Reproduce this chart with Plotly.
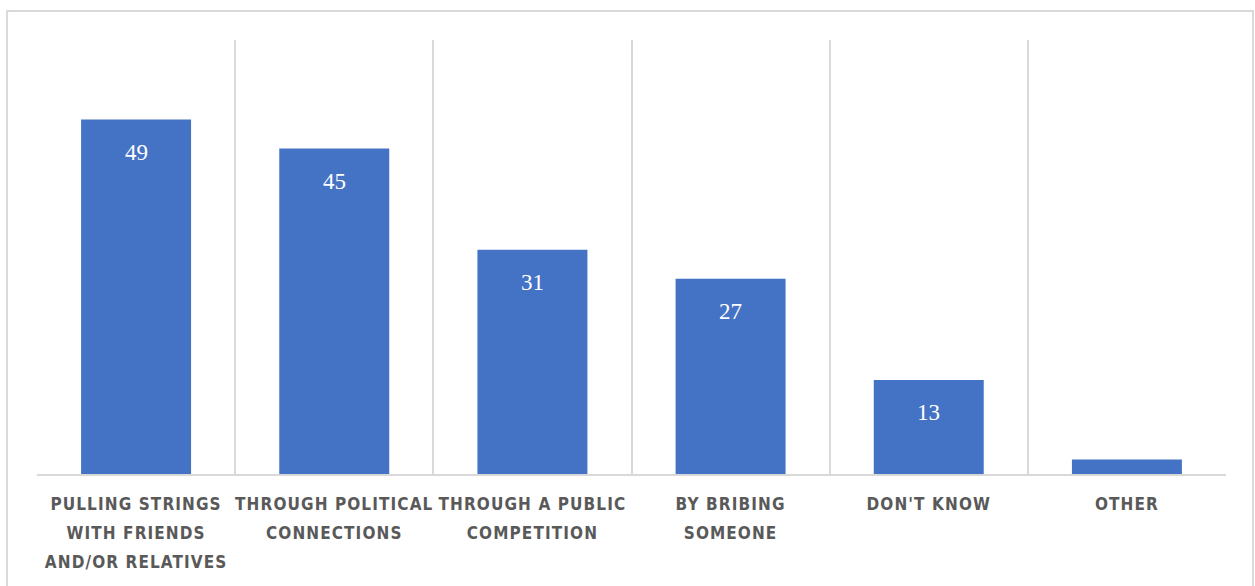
import plotly.graph_objects as go

# Survey answers: how people get a public sector job
categories = [
    "PULLING STRINGS<br>WITH FRIENDS<br>AND/OR RELATIVES",
    "THROUGH POLITICAL<br>CONNECTIONS",
    "THROUGH A PUBLIC<br>COMPETITION",
    "BY BRIBING<br>SOMEONE",
    "DON'T KNOW",
    "OTHER",
]
values = [49, 45, 31, 27, 13, 2]
labelled = [True, True, True, True, True, False]

bar_color = "#4472C4"
grid_color = "#D9D9D9"


def spaced(label):
    """Draw each tick-label line smaller than the base font, with wider tracking,
    so the lines keep a looser line pitch."""
    return "<br>".join(
        f"<span style='font-size:17px;letter-spacing:1.1px'>{line}</span>"
        for line in label.split("<br>")
    )


tick_text = [spaced(c) for c in categories]

fig = go.Figure(
    go.Bar(
        x=categories,
        y=values,
        marker=dict(color=bar_color, line=dict(width=0)),
        hoverinfo="x+y",
    )
)

# Value labels sit inside each bar just below its top
for cat, val, show in zip(categories, values, labelled):
    if show:
        fig.add_annotation(
            x=cat, y=val, text=str(val), showarrow=False,
            yanchor="top", yshift=-18,
            font=dict(family="Liberation Serif", size=23, color="white"),
        )

# Light frame around the whole chart
fig.add_shape(
    type="rect", xref="paper", yref="paper",
    x0=-0.0252, x1=1.0227, y0=-0.30, y1=1.0668,
    line=dict(color=grid_color, width=2), fillcolor="rgba(0,0,0,0)", layer="below",
)

fig.update_layout(
    width=1255, height=586,
    margin=dict(l=37, r=29, t=40, b=112, autoexpand=False),
    paper_bgcolor="white", plot_bgcolor="white",
    bargap=0.445,
    showlegend=False,
    xaxis=dict(
        tickson="boundaries", showgrid=True, gridcolor=grid_color, gridwidth=2,
        showline=True, linecolor=grid_color, linewidth=2,
        tickmode="array", tickvals=categories, ticktext=tick_text,
        ticks="", ticklabelstandoff=8, tickangle=0, automargin=False,
        tickfont=dict(family="DejaVu Sans Condensed", size=22, color="#595959", weight="bold"),
    ),
    yaxis=dict(range=[0, 60], showgrid=False, showticklabels=False, zeroline=False,
               ticks="", automargin=False),
)

fig.write_html("out.html")
